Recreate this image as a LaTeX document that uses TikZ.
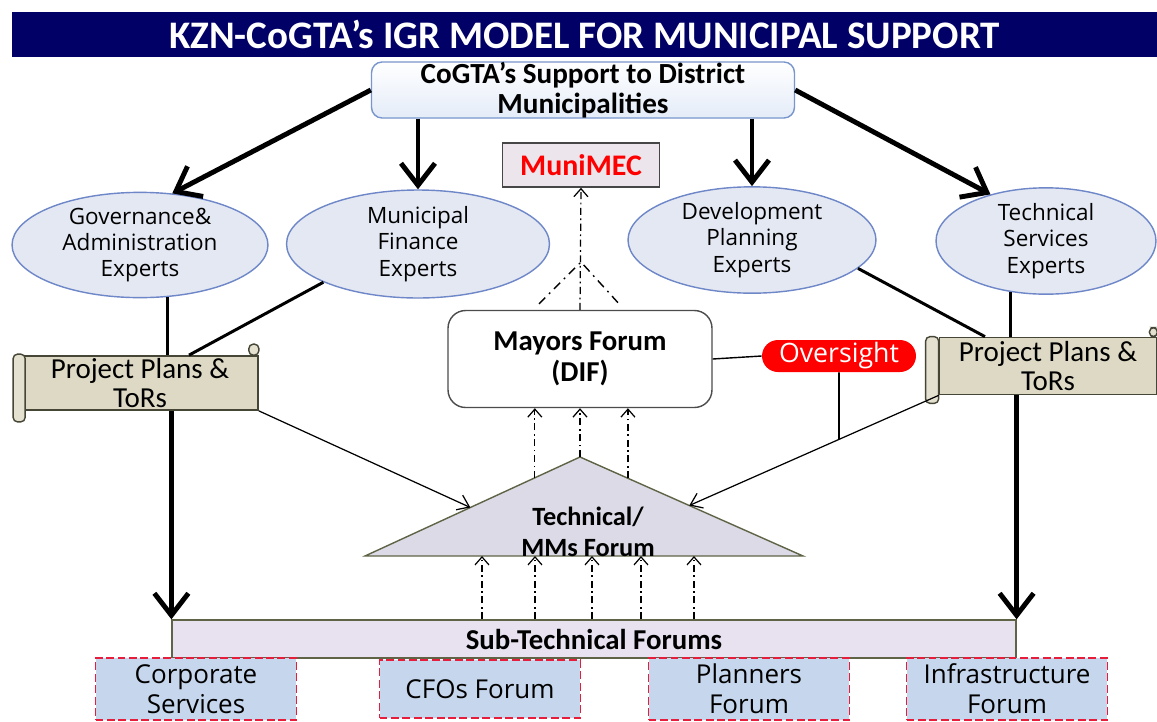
\documentclass[tikz,border=0pt]{standalone}
\usepackage{fontspec}
\setmainfont{Carlito}
\newfontfamily\widefont{Open Sans}
\usetikzlibrary{positioning,calc,arrows.meta,shapes.geometric}

\definecolor{navy}{RGB}{0,0,102}
\definecolor{supblue}{RGB}{120,150,205}
\definecolor{supfill}{RGB}{228,236,248}
\definecolor{ellblue}{RGB}{110,135,200}
\definecolor{ellfill}{RGB}{228,232,242}
\definecolor{scrolldark}{RGB}{70,70,55}
\definecolor{scrollfill}{RGB}{221,217,196}
\definecolor{mecfill}{RGB}{236,230,236}
\definecolor{trifill}{RGB}{220,218,230}
\definecolor{trieedge}{RGB}{95,100,70}
\definecolor{subfill}{RGB}{232,226,240}
\definecolor{boxfill}{RGB}{198,214,236}
\definecolor{dashred}{RGB}{230,30,60}

\begin{document}
\begin{tikzpicture}[x=0.02cm,y=-0.02cm,
    headbar/.style={fill=navy,text=white,inner sep=0,minimum width=22.9cm,minimum height=0.9cm,
      font=\fontsize{22.2}{26}\selectfont\bfseries},
    supportbox/.style={draw=supblue,line width=0.8pt,rounded corners=6pt,top color=white,bottom color=supfill,
      minimum width=8.46cm,minimum height=1.12cm,inner sep=0,align=center,font=\fontsize{16.6}{16.6}\selectfont\bfseries},
    expert/.style={ellipse,draw=ellblue,line width=0.8pt,fill=ellfill,inner sep=0,align=center,
      font=\widefont\fontsize{12.8}{15}\selectfont},
    plans/.style={draw=scrolldark,line width=1pt,fill=scrollfill,inner sep=0,align=center,
      font=\fontsize{16.5}{16.5}\selectfont},
    roll/.style={draw=scrolldark,line width=0.8pt,fill=scrollfill!80!white,rounded corners=2.5pt},
    forum/.style={draw=gray!60!black,line width=0.8pt,rounded corners=10pt,fill=white,align=center,
      minimum width=5.28cm,minimum height=1.94cm,font=\fontsize{16.4}{17.5}\selectfont\bfseries},
    mecbox/.style={draw=gray!55!black,line width=0.9pt,fill=mecfill,text=red,minimum width=3.14cm,
      minimum height=0.88cm,font=\fontsize{17}{19}\selectfont\bfseries},
    oversee/.style={fill=red,text=white,rounded corners=0.32cm,minimum width=3.08cm,minimum height=0.64cm,
      inner sep=0,font=\widefont\fontsize{15.2}{17}\selectfont},
    subbar/.style={draw=trieedge,line width=0.8pt,fill=subfill,minimum width=16.88cm,minimum height=0.76cm,
      inner sep=0,font=\fontsize{16.4}{17}\selectfont\bfseries},
    subforum/.style={draw=dashred,dash pattern=on 4.5pt off 2pt,line width=1pt,fill=boxfill,minimum width=4.02cm,
      minimum height=1.24cm,inner sep=0,align=center,font=\widefont\fontsize{14.8}{17}\selectfont},
    bigarrow/.style={line width=2.8pt,-{Straight Barb[length=4.4mm,width=6.8mm]}},
    link/.style={line width=1.7pt},
    thinarrow/.style={line width=0.7pt,-{Straight Barb[length=2.2mm,width=3.2mm]}},
    dd/.style={line width=0.7pt,dash pattern=on 4pt off 2pt on 1pt off 2pt,-{Straight Barb[length=1.6mm,width=2.8mm]}},
    forkline/.style={line width=0.8pt,dash pattern=on 5pt off 3pt on 1pt off 3pt}]

    \useasboundingbox[fill=white] (0,0) rectangle (1157,721);

    % title and the support box
    \node[headbar] (title) at (584.5,34.5) {KZN-CoGTA’s IGR MODEL FOR MUNICIPAL SUPPORT};
    \node[supportbox] (sup) at (583,90) {CoGTA’s Support to District\\[0.5pt]Municipalities};
    \node[mecbox] (mec) at (581,165) {MuniMEC};

    % the four expert groups
    \node[expert,minimum width=5.12cm,minimum height=2.08cm] (gov) at (140,245) {Governance\&\\Administration\\Experts};
    \node[expert,minimum width=5.26cm,minimum height=2.16cm] (fin) at (418,244) {Municipal\\Finance\\Experts};
    \node[expert,minimum width=4.96cm,minimum height=2.0cm] (dev) at (752,240) {Development\\Planning\\Experts};
    \node[expert,minimum width=4.4cm,minimum height=2.04cm] (tech) at (1046,241) {Technical\\Services\\Experts};

    \draw[bigarrow] (sup.west) -- (gov.58);
    \draw[bigarrow] (sup.south -| fin.north) -- (fin.north);
    \draw[bigarrow] (sup.south -| dev.north) -- (dev.north);
    \draw[bigarrow] (sup.east) -- (tech.140);

    % scrolls
    \node[plans,minimum width=4.72cm,minimum height=1.08cm] (planL) at (140,383) {Project Plans \&\\ToRs};
    \draw[roll] ($(planL.north west)+(-8,-1)$) rectangle ($(planL.south west)+(4,11)$);
    \draw[roll] ($(planL.north east)+(-10,-11)$) rectangle (planL.north east);
    \node[plans,minimum width=4.34cm,minimum height=1.14cm] (planR) at (1048,366) {Project Plans \&\\ToRs};
    \draw[roll] ($(planR.north west)+(-13,0)$) rectangle ($(planR.south west)+(0,8)$);
    \draw[roll] ($(planR.north east)+(-8,-9)$) rectangle (planR.north east);

    \draw[link] (gov.-62) -- (gov.-62 |- planL.north);
    \draw[link] (fin.202) -- ($(planL.north)+(49,0)$);
    \draw[link] (dev.-15) -- ($(planR.north)+(-63,0)$);
    \draw[link] (tech.-125) -- (tech.-125 |- planR.north);

    % mayors forum and oversight
    \node[forum] (dif) at (580,359) {Mayors Forum\\(DIF)};
    \node[oversee] (over) at (839,356) {Oversight};
    \draw[line width=0.8pt] (dif.east) -- (over.west);

    \coordinate (fork) at (581,262);
    \draw[forkline] ($(dif.north)+(-41,-6)$) -- (fork) -- ($(dif.north)+(39,-6)$);
    \draw[dd] (dif.north) -- (mec.south);

    % technical / MMs forum triangle
    \coordinate (tl) at (365,556);
    \coordinate (ta) at (580,457);
    \coordinate (tr) at (803,556);
    \draw[draw=trieedge,line width=0.8pt,fill=trifill] (tl) -- (ta) -- (tr) -- cycle;
    \node[font=\fontsize{15}{17.5}\selectfont\bfseries,align=center] (mm) at (588,532) {Technical/\\MMs Forum};

    \coordinate (hitL) at ($(tl)!0.49!(ta)$);
    \coordinate (hitR) at ($(tr)!0.51!(ta)$);
    \draw[thinarrow] (planL.south east) -- (hitL);
    \draw[thinarrow] (planR.south west) -- (hitR);
    \draw[line width=1pt] (over.south) -- (intersection of over.south--over.north and planR.south west--hitR);

    \coordinate (up1) at ($(tl)!0.79!(ta)$);
    \coordinate (up3) at ($(tr)!0.785!(ta)$);
    \foreach \c in {up1,ta,up3} \draw[dd] (\c) -- (\c |- dif.south);

    % sub-technical forums
    \node[subbar] (sub) at (594,639) {Sub-Technical Forums};
    \foreach \x in {482,535,592,641,694} \draw[dd] (sub.north -| \x,0) -- (tl -| \x,0);

    \draw[bigarrow] (planL.south -| sub.north west) -- (sub.north west);
    \draw[bigarrow] (planR.south -| sub.north east) -- (sub.north east);

    \node[subforum] (corp) at (196,689) {Corporate\\Services};
    \node[subforum,minimum height=1.16cm] (cfo) at (480,689) {CFOs Forum};
    \node[subforum] (plan) at (749,689) {Planners\\Forum};
    \node[subforum] (infra) at (1007,689) {Infrastructure\\Forum};
\end{tikzpicture}
\end{document}
